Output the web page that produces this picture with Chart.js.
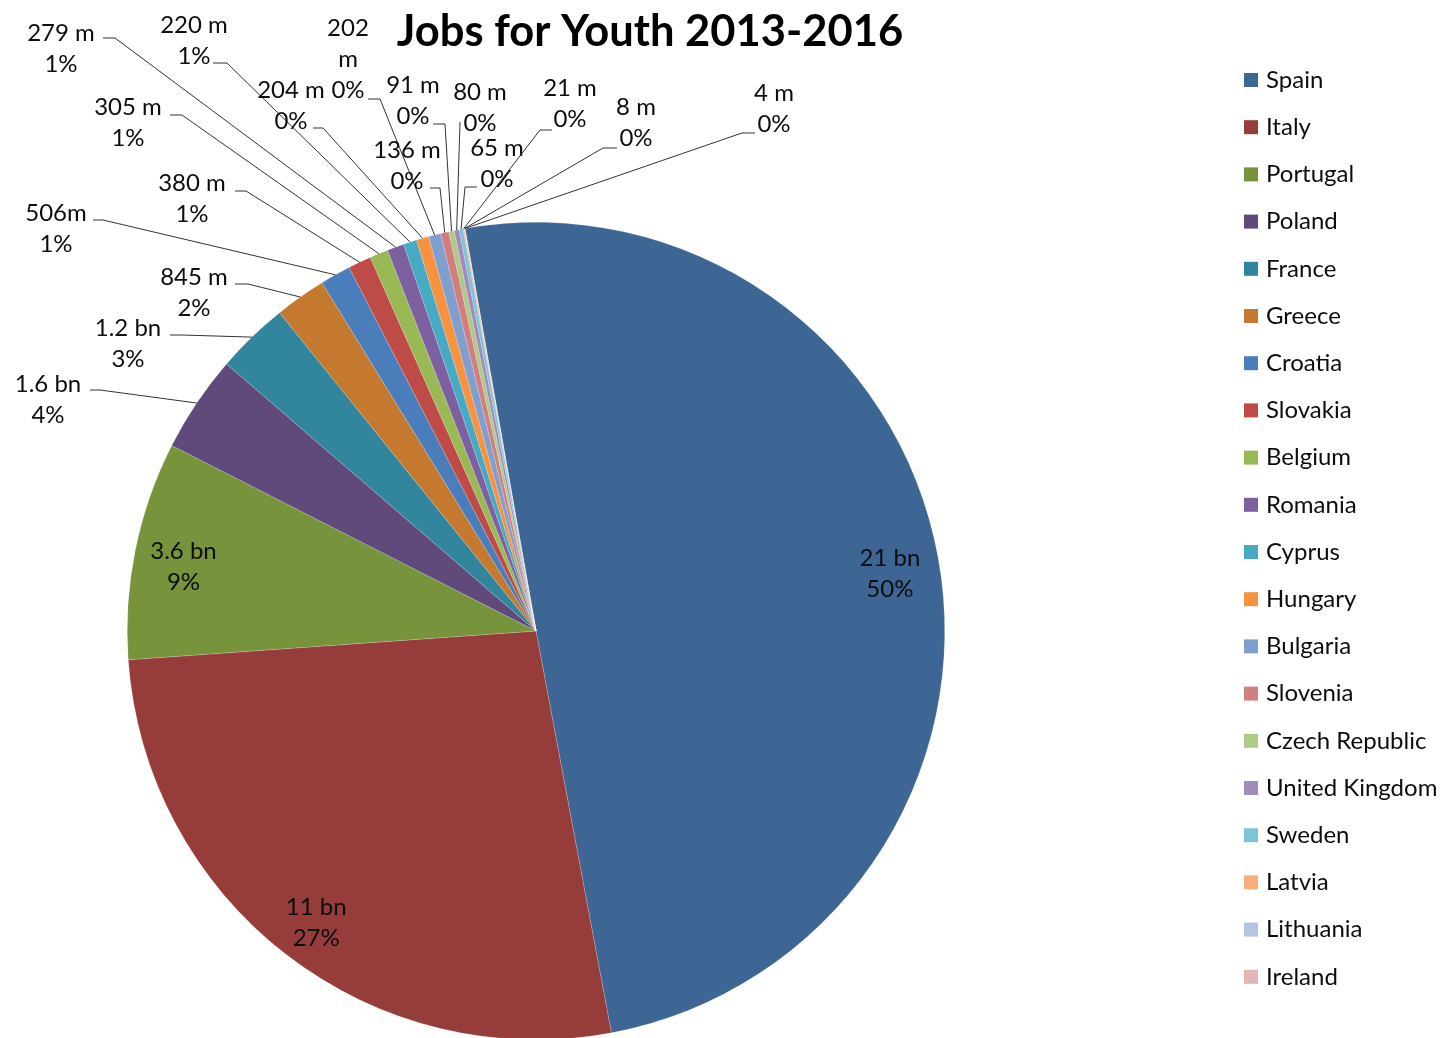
<!DOCTYPE html>
<html>
<head>
<meta charset="utf-8">
<title>Jobs for Youth 2013-2016</title>
<script src="https://cdn.jsdelivr.net/npm/chart.js@4/dist/chart.umd.min.js"></script>
<style>
  html, body { margin: 0; padding: 0; background: #ffffff; overflow: hidden; }
  canvas { display: block; }
</style>
</head>
<body>
<canvas id="jobs" width="1443" height="1044"></canvas>
<script>
// Youth Employment Initiative allocation per country, 2013-2016 (EUR million)
const countries = [
  'Spain', 'Italy', 'Portugal', 'Poland', 'France', 'Greece', 'Croatia',
  'Slovakia', 'Belgium', 'Romania', 'Cyprus', 'Hungary', 'Bulgaria',
  'Slovenia', 'Czech Republic', 'United Kingdom', 'Sweden', 'Latvia',
  'Lithuania', 'Ireland'
];
const amountsMillion = [
  20800, 11200, 3600, 1600, 1200, 845, 506, 380, 305, 279,
  220, 204, 202, 136, 91, 80, 65, 21, 8, 4
];
const amountLabels = [
  '21 bn', '11 bn', '3.6 bn', '1.6 bn', '1.2 bn', '845 m', '506m', '380 m',
  '305 m', '279 m', '220 m', '204 m', '202 m', '136 m', '91 m', '80 m',
  '65 m', '21 m', '8 m', '4 m'
];
const chartTitle = 'Jobs for Youth 2013-2016';

// slice palette
const sliceColors = [
  '#3d6695', '#963c3b', '#77933c', '#604a7b', '#31859c', '#c4792f', '#4a7ebb',
  '#be4b48', '#98b954', '#7d60a0', '#46aac5', '#f69240', '#7f9fce', '#d07f7e',
  '#afca87', '#9f8cba', '#7ec4d9', '#f8ae7a', '#b4c4e2', '#e3b6b5'
];

const FONT = 'Lato, "Open Sans", "Liberation Sans", sans-serif';
const TEXT_COLOR = '#0d0d0d';

// labels drawn inside their slice, along the slice's mid angle
const insideLabels = [0, 1, 2];
const insideRadiusRatio = 0.88;
const insideDrop = 7;

// callout labels: text anchor (centre of first line), where the leader leaves
// the label and where it bends towards the slice
const calloutLayout = [
  { i: 3,  x: 48,  y: 384, start: [90, 390],  bend: [100, 390] },
  { i: 4,  x: 128, y: 328, start: [170, 335], bend: [182, 335] },
  { i: 5,  x: 194, y: 277, start: [235, 284], bend: [248, 284] },
  { i: 6,  x: 56,  y: 213, start: [93, 220],  bend: [103, 220] },
  { i: 7,  x: 192, y: 183, start: [235, 191], bend: [246, 191] },
  { i: 8,  x: 128, y: 107, start: [170, 115], bend: [182, 115] },
  { i: 9,  x: 61,  y: 33,  start: [103, 38],  bend: [115, 38] },
  { i: 10, x: 194, y: 25,  start: [213, 63],  bend: [227, 63] },
  { i: 11, x: 291, y: 90,  start: [313, 128], bend: [323, 128] },
  { i: 12, x: 348, y: 28,  start: [368, 99],  bend: [380, 99], wrap: true },
  { i: 13, x: 407, y: 150, start: [430, 188], bend: [440, 188] },
  { i: 14, x: 413, y: 85,  start: [433, 124], bend: [445, 124] },
  { i: 15, x: 480, y: 92,  start: [460, 122], bend: [460, 122] },
  { i: 16, x: 497, y: 148, start: [477, 187], bend: [465, 187] },
  { i: 17, x: 570, y: 88,  start: [552, 130], bend: [540, 130] },
  { i: 18, x: 636, y: 107, start: [617, 148], bend: [603, 148] },
  { i: 19, x: 774, y: 93,  start: [755, 133], bend: [742, 133] }
];

const LINE_GAP = 31;
const LABEL_FONT_SIZE = 24;

const total = amountsMillion.reduce((a, b) => a + b, 0);
const percentText = v => Math.round(v / total * 100) + '%';

const sliceLabels = {
  id: 'sliceLabels',
  afterDatasetsDraw(chart) {
    const ctx = chart.ctx;
    const meta = chart.getDatasetMeta(0);
    ctx.save();
    ctx.font = LABEL_FONT_SIZE + 'px ' + FONT;
    ctx.fillStyle = TEXT_COLOR;
    ctx.textAlign = 'center';
    ctx.textBaseline = 'middle';

    insideLabels.forEach(i => {
      const arc = meta.data[i];
      const p = arc.getProps(['x', 'y', 'startAngle', 'endAngle', 'outerRadius'], true);
      const mid = (p.startAngle + p.endAngle) / 2;
      const r = p.outerRadius * insideRadiusRatio;
      const cx = p.x + Math.cos(mid) * r;
      const cy = p.y + Math.sin(mid) * r + insideDrop;
      ctx.fillText(amountLabels[i], cx, cy - LINE_GAP / 2);
      ctx.fillText(percentText(amountsMillion[i]), cx, cy + LINE_GAP / 2);
    });

    ctx.strokeStyle = '#333333';
    ctx.lineWidth = 1;
    calloutLayout.forEach(c => {
      const arc = meta.data[c.i];
      const p = arc.getProps(['x', 'y', 'startAngle', 'endAngle', 'outerRadius'], true);
      const mid = (p.startAngle + p.endAngle) / 2;
      const tx = p.x + Math.cos(mid) * p.outerRadius;
      const ty = p.y + Math.sin(mid) * p.outerRadius;
      ctx.beginPath();
      ctx.moveTo(c.start[0], c.start[1]);
      ctx.lineTo(c.bend[0], c.bend[1]);
      ctx.lineTo(tx, ty);
      ctx.stroke();

      const lines = c.wrap ? amountLabels[c.i].split(' ') : [amountLabels[c.i]];
      lines.push(percentText(amountsMillion[c.i]));
      lines.forEach((t, k) => ctx.fillText(t, c.x, c.y + k * LINE_GAP));
    });
    ctx.restore();
  },
  afterDraw(chart) {
    const ctx = chart.ctx;
    ctx.save();
    // title
    ctx.font = 'bold 43.5px ' + FONT;
    ctx.fillStyle = '#000000';
    ctx.textAlign = 'center';
    ctx.textBaseline = 'alphabetic';
    ctx.fillText(chartTitle, 650, 46);

    // legend
    ctx.font = LABEL_FONT_SIZE + 'px ' + FONT;
    ctx.textAlign = 'left';
    ctx.textBaseline = 'middle';
    const bg = chart.data.datasets[0].backgroundColor;
    chart.data.labels.forEach((name, i) => {
      const y = 80 + i * 47.2;
      ctx.fillStyle = bg[i];
      ctx.fillRect(1244, y - 7, 14, 14);
      ctx.fillStyle = TEXT_COLOR;
      ctx.fillText(name, 1266, y);
    });
    ctx.restore();
  }
};

new Chart(document.getElementById('jobs'), {
  type: 'pie',
  data: {
    labels: countries,
    datasets: [{
      data: amountsMillion,
      backgroundColor: sliceColors,
      borderColor: 'rgba(255,255,255,0.35)',
      borderWidth: 0.5
    }]
  },
  options: {
    responsive: false,
    animation: false,
    rotation: -10,
    layout: { padding: { left: 127, right: 498, top: 222, bottom: 4 } },
    plugins: {
      legend: { display: false },
      title: { display: false },
      tooltip: { enabled: false }
    }
  },
  plugins: [sliceLabels]
});
</script>
</body>
</html>
